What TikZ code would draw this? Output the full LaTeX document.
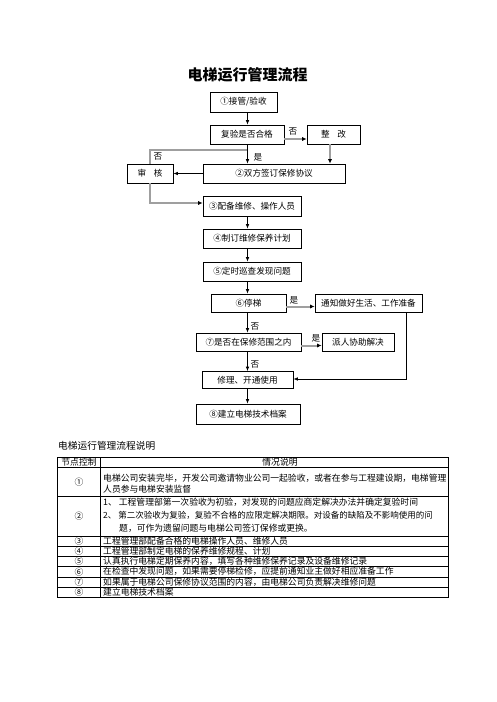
\documentclass[tikz,border=0pt]{standalone}
\usepackage{fontspec}
\setmainfont{Noto Sans CJK SC}
\usetikzlibrary{arrows.meta,calc}
\begin{document}
\begin{tikzpicture}[x=1pt,y=-1pt,
  box/.style={draw, line width=0.7pt, inner sep=0pt, font=\fontsize{8.6}{10}\selectfont},
  arr/.style={line width=0.7pt, -{Latex[length=4.5pt,width=3.6pt]}},
  garr/.style={line width=2pt, draw=gray!75, -{Latex[length=4.5pt,width=4.2pt,color=black]}},
  gline/.style={line width=2pt, draw=gray!75},
  lbl/.style={font=\fontsize{8.6}{10}\selectfont, inner sep=0pt},
  ttxt/.style={font=\fontsize{8.8}{11}\selectfont, inner sep=0pt, anchor=west},
  ctxt/.style={font=\fontsize{8.8}{11}\selectfont, inner sep=0pt},
  tline/.style={line width=0.6pt},
]
\useasboundingbox (0,0) rectangle (496,702);

% title
\node[font=\bfseries\fontsize{15}{18}\selectfont, inner sep=0pt] (title) at (247.5,75) {电梯运行管理流程};

% boxes
\node[box, minimum width=67pt, minimum height=20pt] (b1) at (243.5,102) {①接管/验收};
\node[box, minimum width=74pt, minimum height=19pt] (b2) at (247,134.5) {复验是否合格};
\node[box, minimum width=53pt, minimum height=19pt] (bz) at (333.5,134.5) {整\hspace{0.9em}改};
\node[box, minimum width=46pt, minimum height=19pt] (bs) at (150,173.5) {审\hspace{0.9em}核};
\node[box, minimum width=142pt, minimum height=19pt] (bq) at (274,173.5) {②双方签订保修协议\hspace{10pt}};
\node[box, minimum width=98pt, minimum height=20pt] (b3) at (252,206) {③配备维修、操作人员};
\node[box, minimum width=98pt, minimum height=19pt] (b4) at (252,238.5) {④制订维修保养计划};
\node[box, minimum width=98pt, minimum height=19pt] (b5) at (252,271.5) {⑤定时巡查发现问题};
\node[box, minimum width=75pt, minimum height=18pt] (b6) at (248.5,303) {⑥停梯};
\node[box, minimum width=107pt, minimum height=18pt] (bt) at (368.5,303) {通知做好生活、工作准备};
\node[box, minimum width=105pt, minimum height=18pt] (b7) at (248.5,342) {⑦是否在保修范围之内};
\node[box, minimum width=72pt, minimum height=18pt] (bp) at (358,342) {派人协助解决};
\node[box, minimum width=91pt, minimum height=17pt] (br) at (247.5,380) {修理、开通使用\hspace{14pt}};
\node[box, minimum width=104pt, minimum height=20pt] (b8) at (248,414) {⑧建立电梯技术档案\hspace{5pt}};

% helper coordinates
\coordinate (ax) at (247.5,0);
\coordinate (zx) at (330,0);
\coordinate (j1) at (247.5,150);
\coordinate (j2) at (150,203);
\coordinate (tx) at (406,379);

% connectors
\draw[arr] (b1.south -| ax) -- (b2.north -| ax);
\draw[garr] ([yshift=-4.5pt]b2.east) -- ([yshift=-4.5pt]bz.west);
\draw[garr] (bz.south -| zx) -- (bq.north -| zx);
\draw[gline] (j1) -| (bs.north);
\draw[arr] (b2.south -| ax) -- (bq.north -| ax);
\draw[arr] (bq.west) -- (bs.east);
\draw[garr] (bs.south) -- (j2) -- (b3.west |- j2);
\draw[arr] (b3.south -| ax) -- (b4.north -| ax);
\draw[arr] (b4.south -| ax) -- (b5.north -| ax);
\draw[arr] (b5.south -| ax) -- (b6.north -| ax);
\draw[garr] ([yshift=-3.5pt]b6.east) -- ([yshift=-3.5pt]bt.west);
\draw[arr] (b6.south -| ax) -- (b7.north -| ax);
\draw[garr] ([yshift=-3.5pt]b7.east) -- ([yshift=-3.5pt]bp.west);
\draw[arr] (b7.south -| ax) -- (br.north -| ax);
\draw[arr] (bt.south -| tx) -- (tx) -- (br.east |- tx);
\draw[arr] (br.south -| ax) -- (b8.north -| ax);

% connector labels
\node[lbl] (l1) at (293,131) {否};
\node[lbl] (l2) at (158,156.5) {否};
\node[lbl] (l3) at (258,157) {是};
\node[lbl] (l4) at (294,300) {是};
\node[lbl] (l5) at (255,326) {否};
\node[lbl] (l6) at (316,338) {是};
\node[lbl] (l7) at (255,364) {否};

% table
\node[anchor=west, inner sep=0pt, font=\fontsize{9.7}{12}\selectfont] (cap) at (58,446) {电梯运行管理流程说明};
\draw[tline] (57.3,457.3) rectangle (448.3,597.3);
\draw[tline] (100.7,457.3) -- (100.7,597.3);
\foreach \yy in {467.5,496.5,536,546.2,556.4,566.6,576.8,587}
  \draw[tline] (57.3,\yy) -- (448.3,\yy);

\node[ctxt] (h1) at (79,462.4) {节点控制};
\node[ctxt] (h2) at (280,462.4) {情况说明};

\node[ctxt] (n1) at (79,482) {①};
\node[ttxt] (r1a) at (103,478) {电梯公司安装完毕，开发公司邀请物业公司一起验收，或者在参与工程建设期，电梯管理};
\node[ttxt] (r1b) at (103,489.5) {人员参与电梯安装监督};

\node[ctxt] (n2) at (79,516) {②};
\node[ttxt] (r2a) at (103,502) {1、 工程管理部第一次验收为初验，对发现的问题应商定解决办法并确定复验时间};
\node[ttxt, font=\fontsize{8.5}{11}\selectfont] (r2b) at (103,515.2) {2、 第二次验收为复验，复验不合格的应限定解决期限。对设备的缺陷及不影响使用的问};
\node[ttxt] (r2c) at (119,528.3) {题，可作为遗留问题与电梯公司签订保修或更换。};

\node[ctxt] (n3) at (79,541.1) {③};
\node[ttxt] (r3) at (103,541.1) {工程管理部配备合格的电梯操作人员、维修人员};
\node[ctxt] (n4) at (79,551.3) {④};
\node[ttxt] (r4) at (103,551.3) {工程管理部制定电梯的保养维修规程、计划};
\node[ctxt] (n5) at (79,561.5) {⑤};
\node[ttxt] (r5) at (103,561.5) {认真执行电梯定期保养内容，填写各种维修保养记录及设备维修记录};
\node[ctxt] (n6) at (79,571.7) {⑥};
\node[ttxt] (r6) at (103,571.7) {在检查中发现问题，如果需要停梯检修，应提前通知业主做好相应准备工作};
\node[ctxt] (n7) at (79,581.9) {⑦};
\node[ttxt] (r7) at (103,581.9) {如果属于电梯公司保修协议范围的内容，由电梯公司负责解决维修问题};
\node[ctxt] (n8) at (79,592.1) {⑧};
\node[ttxt] (r8) at (103,592.1) {建立电梯技术档案};
\end{tikzpicture}
\end{document}
